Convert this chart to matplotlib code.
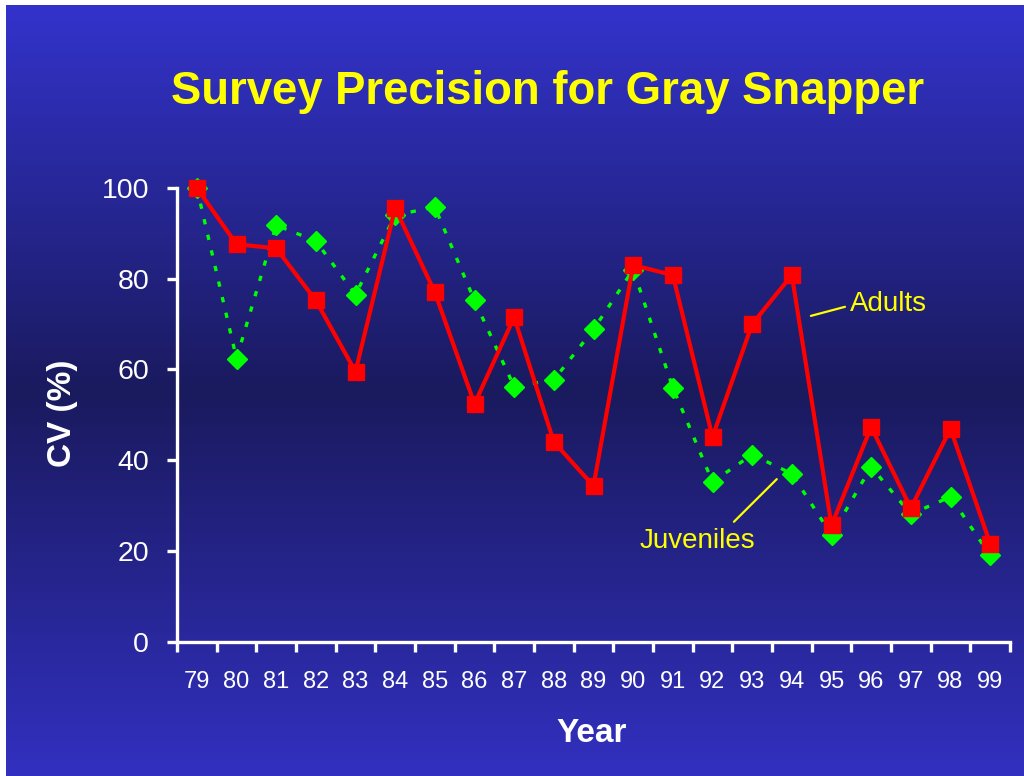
import numpy as np
import matplotlib
matplotlib.use("Agg")
import matplotlib.pyplot as plt

# CV (%) by survey year
years = ["79", "80", "81", "82", "83", "84", "85", "86", "87", "88", "89",
         "90", "91", "92", "93", "94", "95", "96", "97", "98", "99"]
adults = [100, 87.6, 86.7, 75.2, 59.5, 95.6, 77.0, 52.4, 71.5, 44.0, 34.3,
          83.0, 80.8, 45.1, 70.0, 80.8, 25.6, 47.3, 29.4, 46.9, 21.6]
juveniles = [100, 62.4, 91.8, 88.3, 76.5, 94.0, 95.8, 75.2, 56.2, 57.7, 68.8,
             82.0, 56.0, 35.2, 41.2, 37.0, 23.5, 38.5, 28.1, 31.9, 19.0]

plt.rcParams['font.family'] = ['Liberation Sans', 'DejaVu Sans']

fig = plt.figure(figsize=(10.24, 7.76), dpi=100, facecolor='white')

# slide background: vertical blue gradient, dark band in the middle
bg = fig.add_axes([6 / 1024, 0, 1 - 6 / 1024, 1 - 5 / 776])
bg.set_axis_off()
top = np.array([51, 51, 204]) / 255
mid = np.array([26, 26, 94]) / 255
bot = np.array([50, 48, 192]) / 255
n = 776
t = np.linspace(0, 1, n)[:, None]
split = 390 / 776
upper = top + (mid - top) * np.clip(t / split, 0, 1)
lower = mid + (bot - mid) * np.clip((t - split) / (1 - split), 0, 1)
grad = np.where(t < split, upper, lower)
bg.imshow(grad[:, None, :], aspect='auto', extent=[0, 1, 0, 1])

ax = fig.add_axes([177 / 1024, 1 - 641.5 / 776, 833 / 1024, 453.5 / 776])
ax.patch.set_alpha(0)

x = np.arange(len(years))
ax.plot(x, juveniles, color='#00ff00', lw=2.4, ls=(0, (1.6, 3.2)),
        marker='D', ms=10, mec='#00ff00', clip_on=False, zorder=3)
ax.plot(x, adults, color='#ff0000', lw=3, marker='s', ms=12,
        mec='#ff0000', clip_on=False, zorder=4)

ax.set_xlim(-0.5, len(years) - 0.5)
ax.set_ylim(0, 100)

for s in ['top', 'right']:
    ax.spines[s].set_visible(False)
for s in ['left', 'bottom']:
    ax.spines[s].set_color('white')
    ax.spines[s].set_linewidth(2.4)

ax.set_yticks([0, 20, 40, 60, 80, 100])
ax.tick_params(axis='y', colors='white', labelsize=20.5, length=7, width=2.4,
               direction='out', pad=13)
ax.set_xticks(x)
ax.set_xticklabels(years)
ax.set_xticks(np.arange(-0.5, len(years)), minor=True)
ax.tick_params(axis='x', which='major', colors='white', labelsize=17,
               length=0, pad=21)
ax.tick_params(axis='x', which='minor', color='white', length=7, width=2.4,
               direction='out')

fig.text(548 / 1024, 1 - 92 / 776, "Survey Precision for Gray Snapper",
         color='#ffff00', fontsize=32.8, fontweight='bold',
         ha='center', va='center')
fig.text(63 / 1024, 1 - 413 / 776, "CV (%)", color='white', fontsize=24,
         fontweight='bold', rotation=90, ha='center', va='center')
fig.text(592 / 1024, 1 - 733 / 776, "Year", color='white', fontsize=24,
         fontweight='bold', ha='center', va='center')

# series labels with leader lines
ax.text(16.46, 74.4, "Adults", color='#ffff00', fontsize=20,
        ha='left', va='center')
ax.annotate('', xy=(15.48, 71.8), xytext=(16.34, 73.8),
            arrowprops=dict(arrowstyle='-', color='#ffff00', lw=1.6,
                            shrinkA=0, shrinkB=0))
ax.text(12.63, 22.2, "Juveniles", color='#ffff00', fontsize=20,
        ha='center', va='center')
ax.annotate('', xy=(14.62, 35.8), xytext=(13.54, 26.4),
            arrowprops=dict(arrowstyle='-', color='#ffff00', lw=1.6,
                            shrinkA=0, shrinkB=0))

fig.savefig("out.png", dpi=100, facecolor=fig.get_facecolor())
